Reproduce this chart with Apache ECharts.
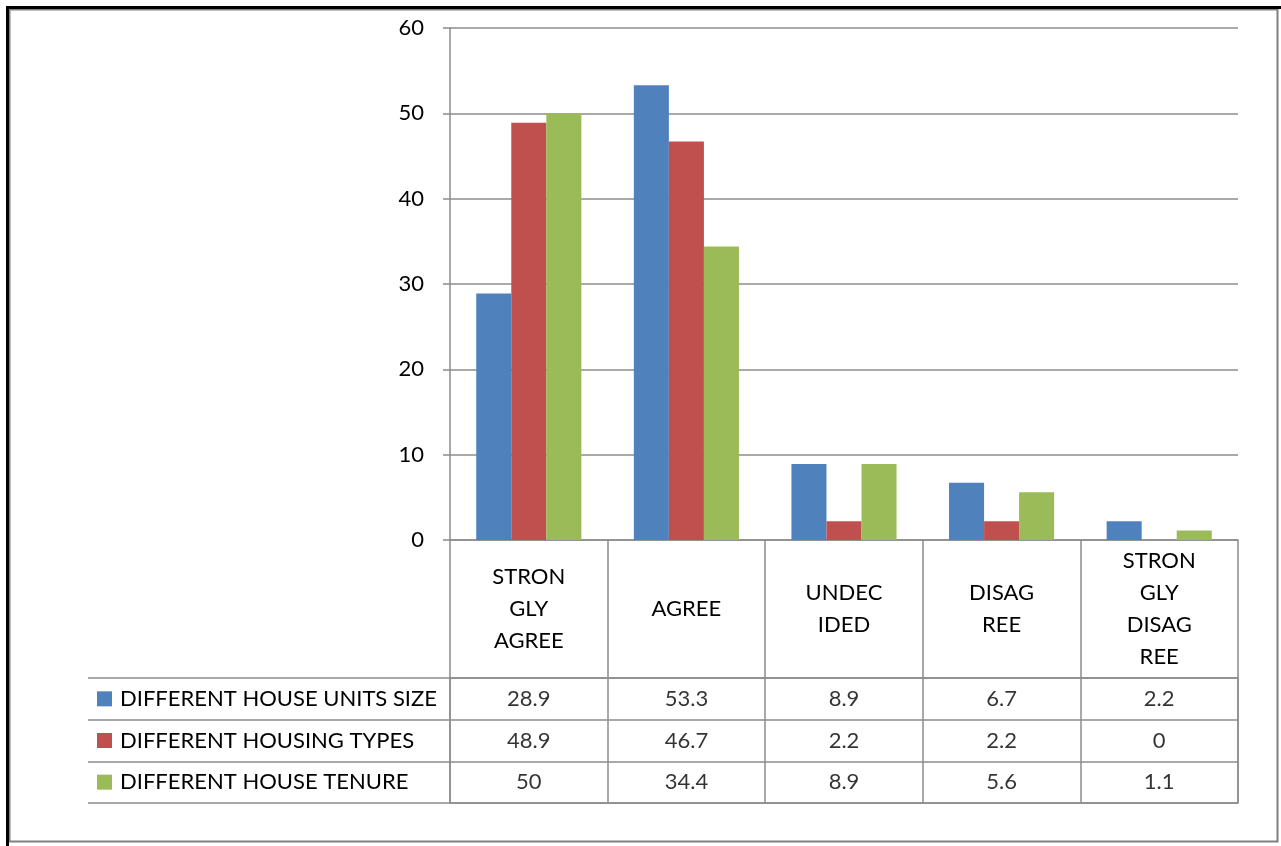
<!DOCTYPE html>
<html>
<head>
<meta charset="utf-8">
<script src="https://cdn.jsdelivr.net/npm/echarts@6/dist/echarts.min.js"></script>
<style>
  html, body { margin: 0; padding: 0; background: #fff; }
  #chart { width: 1281px; height: 846px; }
</style>
</head>
<body>
<div id="chart"></div>
<script>
// categories as they wrap in the original cell headers
const categories = ["STRON\nGLY\nAGREE", "AGREE", "UNDEC\nIDED", "DISAG\nREE", "STRON\nGLY\nDISAG\nREE"];
const seriesNames = ["DIFFERENT HOUSE UNITS SIZE", "DIFFERENT HOUSING TYPES", "DIFFERENT HOUSE TENURE"];
const unitsSize = [28.9, 53.3, 8.9, 6.7, 2.2];
const housingTypes = [48.9, 46.7, 2.2, 2.2, 0];
const houseTenure = [50, 34.4, 8.9, 5.6, 1.1];
const yTicks = [0, 10, 20, 30, 40, 50, 60];

const colors = ["#4F81BD", "#C0504D", "#9BBB59"];
const seriesValues = [unitsSize, housingTypes, houseTenure];
const font = "Lato, 'Open Sans', sans-serif";
const fs = 22;
const grey = "#8c8c8c";

const chart = echarts.init(document.getElementById("chart"));

// cells of the data table: [category index, row index, value]
const tableCells = [];
seriesValues.forEach((vals, s) => {
    vals.forEach((v, i) => tableCells.push([i, s, v]));
});

const rich = { t: { fontSize: fs, color: "#000", fontFamily: font, padding: [0, 0, 0, 8] } };
colors.forEach((c, i) => {
    rich["s" + i] = { width: 15, height: 15, backgroundColor: c };
});

const option = {
    animation: false,
    backgroundColor: "#fff",
    textStyle: { fontFamily: font },
    grid: [
        { left: 450, top: 28, width: 788, height: 512 },
        { left: 450, top: 678, width: 788, height: 125, show: true, borderColor: grey, borderWidth: 1.5 }
    ],
    xAxis: [
        {
            type: "category",
            gridIndex: 0,
            data: categories,
            axisLine: { lineStyle: { color: grey, width: 1.5 } },
            axisTick: { show: true, interval: 0, length: 138, lineStyle: { color: grey, width: 1.5 } },
            axisLabel: {
                interval: 0, margin: 69, verticalAlign: "middle", lineHeight: 32,
                fontSize: fs, color: "#000", fontFamily: font
            }
        },
        {
            type: "category",
            gridIndex: 1,
            data: categories,
            axisLine: { show: false },
            axisTick: { show: false },
            axisLabel: { show: false },
            splitLine: { show: true, interval: 0, lineStyle: { color: grey, width: 1.5 } }
        }
    ],
    yAxis: [
        {
            type: "value",
            gridIndex: 0,
            min: yTicks[0],
            max: yTicks[yTicks.length - 1],
            interval: 10,
            axisLine: { show: true, lineStyle: { color: grey, width: 1.5 } },
            axisTick: { show: true, length: 7, lineStyle: { color: grey, width: 1.5 } },
            splitLine: { lineStyle: { color: grey, width: 1.5 } },
            axisLabel: { margin: 26, fontSize: fs, color: "#000", fontFamily: font }
        },
        {
            type: "category",
            gridIndex: 1,
            inverse: true,
            data: seriesNames,
            axisLine: { show: false },
            axisTick: { show: true, interval: 0, length: 362, lineStyle: { color: grey, width: 1.5 } },
            splitLine: { show: true, interval: 0, lineStyle: { color: grey, width: 1.5 } },
            axisLabel: {
                interval: 0, margin: 353, align: "left",
                formatter: (v, i) => "{s" + i + "|}{t|" + v + "}",
                rich: rich
            }
        },
        {
            type: "category",
            gridIndex: 1,
            data: seriesNames,
            offset: 362,
            axisLine: { show: true, lineStyle: { color: grey, width: 1.5 } },
            axisTick: { show: false },
            axisLabel: { show: false }
        }
    ],
    series: [
        ...seriesNames.map((name, s) => ({
            name: name,
            type: "bar",
            xAxisIndex: 0,
            yAxisIndex: 0,
            data: seriesValues[s],
            barGap: "0%",
            barCategoryGap: "33.3%",
            itemStyle: { color: colors[s] }
        })),
        {
            type: "scatter",
            xAxisIndex: 1,
            yAxisIndex: 1,
            symbolSize: 0,
            data: tableCells,
            label: {
                show: true,
                position: "inside",
                formatter: (p) => String(p.value[2]),
                fontSize: fs,
                color: "#000",
                fontFamily: font
            }
        }
    ],
    graphic: [
        { type: "rect", shape: { x: 9.5, y: 9.5, width: 1268, height: 832 }, style: { fill: null, stroke: "#808080", lineWidth: 2 } },
        { type: "line", shape: { x1: 6, y1: 7.5, x2: 1281, y2: 7.5 }, style: { stroke: "#000", lineWidth: 3 } },
        { type: "line", shape: { x1: 7.5, y1: 6, x2: 7.5, y2: 846 }, style: { stroke: "#000", lineWidth: 3 } }
    ]
};

chart.setOption(option);
</script>
</body>
</html>
